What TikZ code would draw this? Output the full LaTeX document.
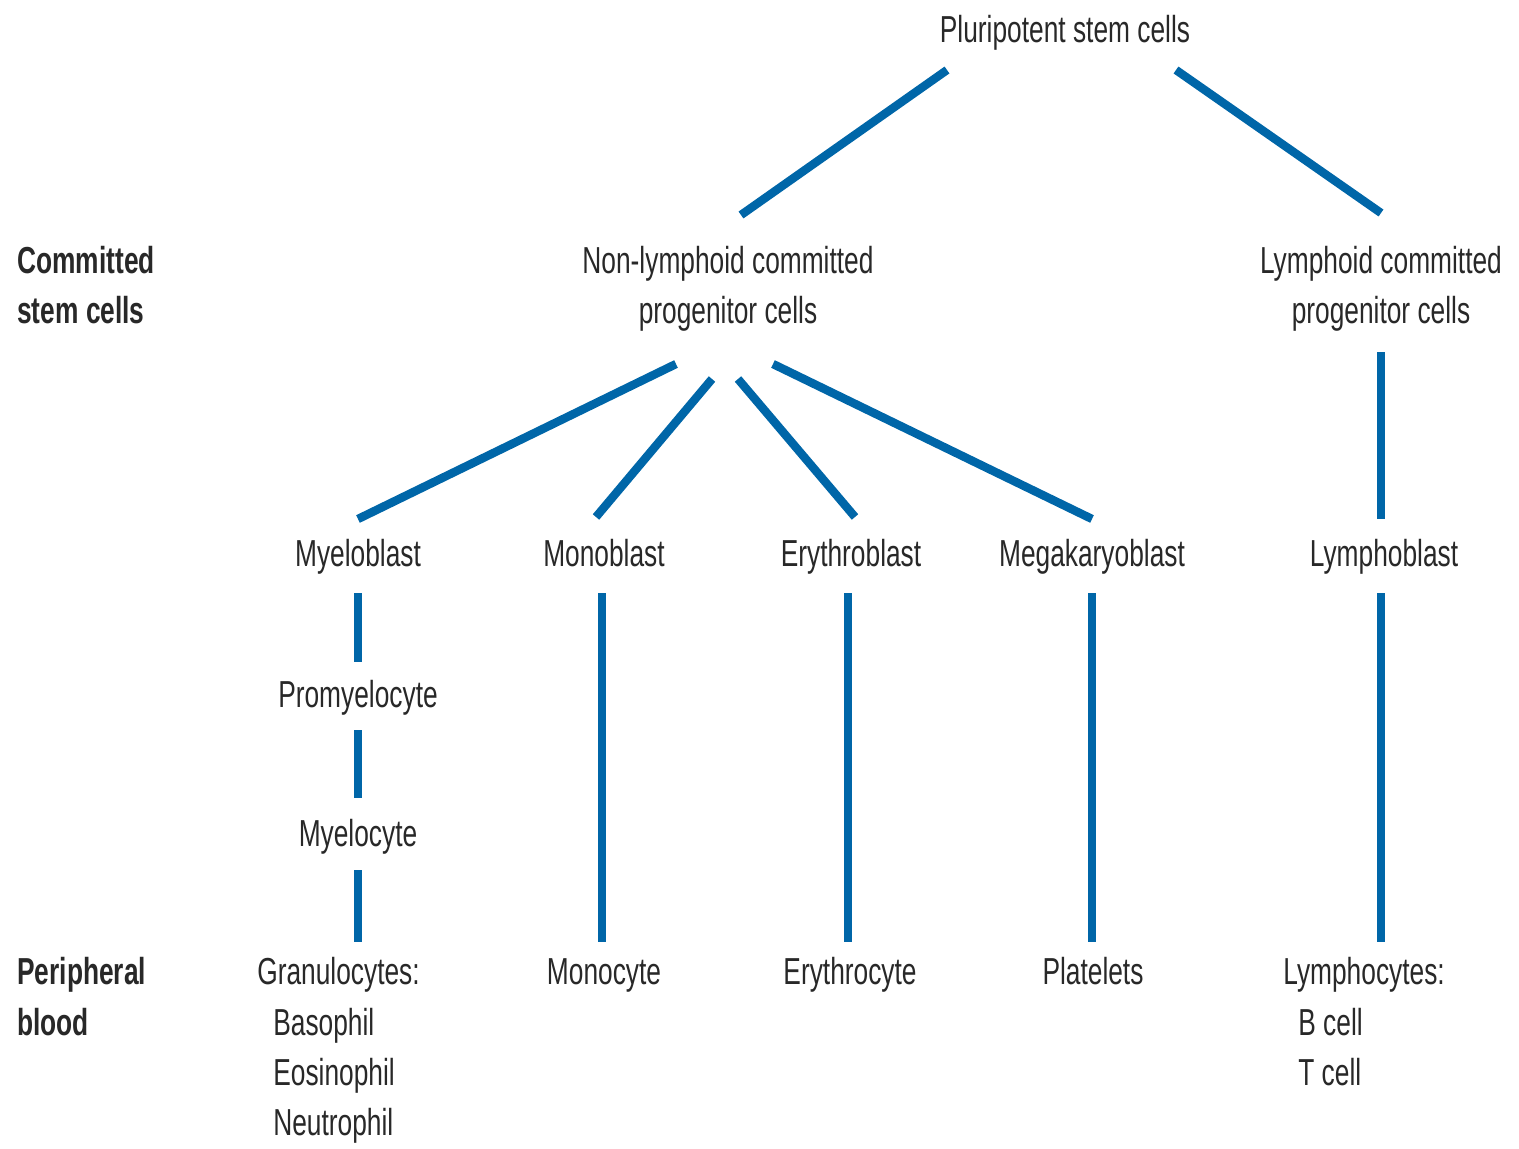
\documentclass[tikz,border=0pt]{standalone}
\usepackage{fontspec}
\setmainfont{Liberation Sans}[FakeStretch=0.7]
\definecolor{lineblue}{RGB}{0,102,168}
\definecolor{txt}{RGB}{40,40,40}
\begin{document}
\begin{tikzpicture}[x=0.02cm,y=-0.02cm,
  lbl/.style={inner sep=0pt,anchor=base,text=txt,font=\fontsize{21.4}{25}\selectfont},
  lblw/.style={lbl,anchor=base west},
  lblb/.style={lblw,font=\fontsize{21.4}{25}\selectfont\bfseries},
  conn/.style={draw=lineblue,line width=4.8pt}]
\useasboundingbox (0,0) rectangle (1519,1149);
% labels (positions are baselines)
\node[lbl] (pl) at (1065,43) {Pluripotent stem cells};
\node[lbl] (nl1) at (728,274) {Non-lymphoid committed};
\node[lbl] (nl2) at (728,323) {progenitor cells};
\node[lbl] (ly1) at (1381,274) {Lymphoid committed};
\node[lbl] (ly2) at (1381,323) {progenitor cells};
\node[lblb] (cs1) at (17,274) {Committed};
\node[lblb] (cs2) at (17,323) {stem cells};
\node[lbl] (myb) at (358,566) {Myeloblast};
\node[lbl] (mob) at (604,566) {Monoblast};
\node[lbl] (erb) at (851,566) {Erythroblast};
\node[lbl] (meb) at (1092,566) {Megakaryoblast};
\node[lbl] (lyb) at (1384,566) {Lymphoblast};
\node[lbl] (pro) at (358,707) {Promyelocyte};
\node[lbl] (myc) at (358,846) {Myelocyte};
\node[lblb] (pb1) at (17,984) {Peripheral};
\node[lblb] (pb2) at (17,1035) {blood};
\node[lblw] (gr) at (257,984) {Granulocytes:};
\node[lblw] (ba) at (273,1035) {Basophil};
\node[lblw] (eo) at (273,1085) {Eosinophil};
\node[lblw] (ne) at (273,1135) {Neutrophil};
\node[lbl] (moc) at (604,984) {Monocyte};
\node[lbl] (ery) at (850,984) {Erythrocyte};
\node[lbl] (pla) at (1093,984) {Platelets};
\node[lblw] (lyc) at (1283,984) {Lymphocytes:};
\node[lblw] (bc) at (1298,1035) {B cell};
\node[lblw] (tc) at (1298,1085) {T cell};
% connector endpoints
\coordinate (a1) at (947,70); \coordinate (a2) at (741,215);
\coordinate (b1) at (1176,70); \coordinate (b2) at (1381,213);
\coordinate (c1) at (676,364); \coordinate (c2) at (358,519);
\coordinate (d1) at (712,379); \coordinate (d2) at (596,517);
\coordinate (e1) at (738,379); \coordinate (e2) at (855,517);
\coordinate (f1) at (773,364); \coordinate (f2) at (1092,519);
\coordinate (g1) at (1381,352); \coordinate (g2) at (1381,519);
\coordinate (h1) at (358,593); \coordinate (h2) at (358,662);
\coordinate (i1) at (358,730); \coordinate (i2) at (358,798);
\coordinate (j1) at (358,870); \coordinate (j2) at (358,942);
\coordinate (k1) at (602,593); \coordinate (k2) at (602,942);
\coordinate (l1) at (848,593); \coordinate (l2) at (848,942);
\coordinate (m1) at (1092,593); \coordinate (m2) at (1092,942);
\coordinate (n1) at (1381,593); \coordinate (n2) at (1381,942);
\foreach \p in {a,b,c,d,e,f,g,h,i,j,k,l,m,n}
  \draw[conn] (\p1) -- (\p2);
\end{tikzpicture}
\end{document}
